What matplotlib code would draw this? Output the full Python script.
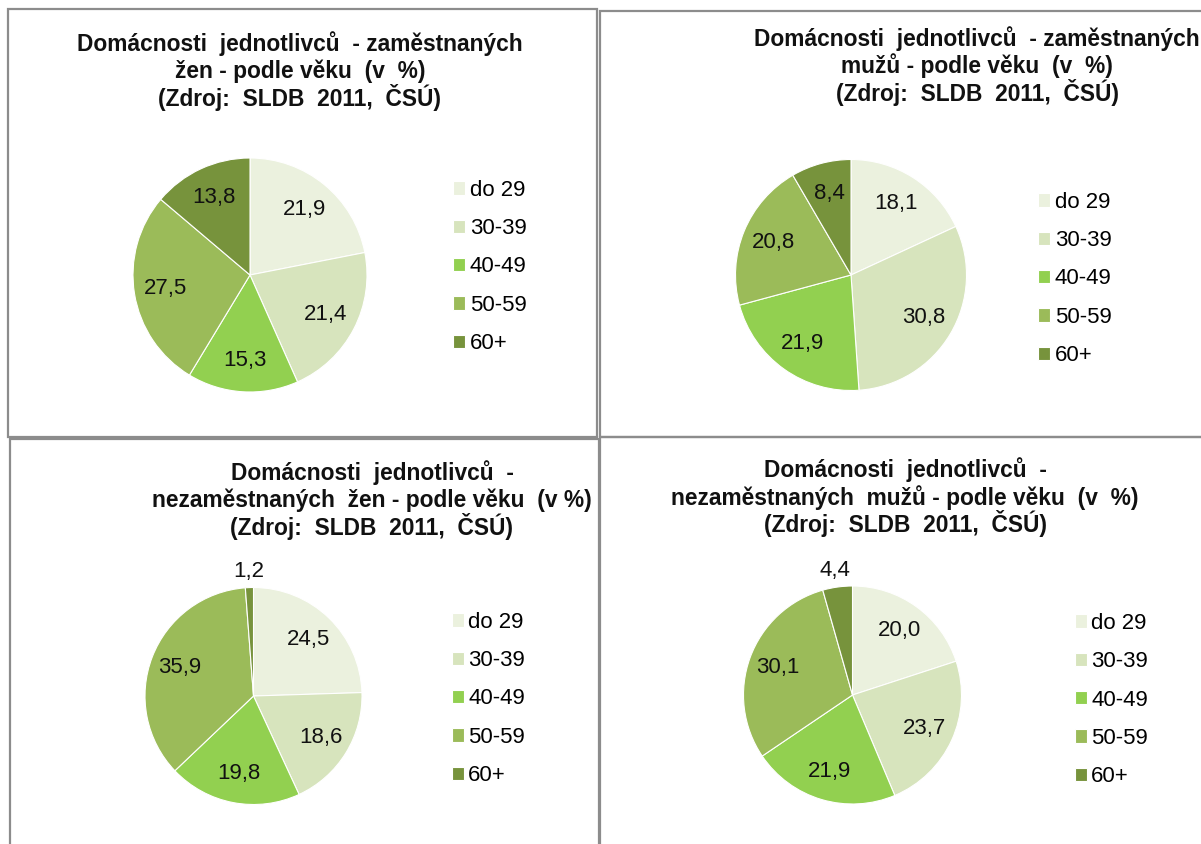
import matplotlib
matplotlib.use("Agg")
import matplotlib.pyplot as plt
import numpy as np
from matplotlib.patches import Rectangle

plt.rcParams["font.family"] = ["Liberation Sans", "DejaVu Sans"]

# --- data -------------------------------------------------------------
categories = ["do 29", "30-39", "40-49", "50-59", "60+"]
colors = ["#EBF1DE", "#D7E4BD", "#92D050", "#9BBB59", "#77933C"]

titles = [
    ["Domácnosti  jednotlivců  - zaměstnaných", "žen - podle věku  (v  %)", "(Zdroj:  SLDB  2011,  ČSÚ)"],
    ["Domácnosti  jednotlivců  - zaměstnaných", "mužů - podle věku  (v  %)", "(Zdroj:  SLDB  2011,  ČSÚ)"],
    ["Domácnosti  jednotlivců  -", "nezaměstnaných  žen - podle věku  (v %)", "(Zdroj:  SLDB  2011,  ČSÚ)"],
    ["Domácnosti  jednotlivců  -", "nezaměstnaných  mužů - podle věku  (v  %)", "(Zdroj:  SLDB  2011,  ČSÚ)"],
]
emp_women = [21.9, 21.4, 15.3, 27.5, 13.8]
emp_men = [18.1, 30.8, 21.9, 20.8, 8.4]
unemp_women = [24.5, 18.6, 19.8, 35.9, 1.2]
unemp_men = [20.0, 23.7, 21.9, 30.1, 4.4]
series = [emp_women, emp_men, unemp_women, unemp_men]

W, H = 1201, 844
fig = plt.figure(figsize=(W / 100, H / 100), dpi=100)


def fx(x):
    return x / W


def fy(y):
    return 1 - y / H


# panel borders (pixel boxes: left, top, right, bottom)
panels = [(7.5, 9, 597, 437), (599.5, 11, 1230, 436.5), (9.5, 438.5, 598.5, 900), (599.5, 436.5, 1230, 900)]
for l, t, r, b in panels:
    fig.patches.append(Rectangle((fx(l), fy(b)), fx(r - l), (b - t) / H, transform=fig.transFigure,
                                 fill=False, edgecolor="#8c8c8c", lw=1.6, zorder=0))

# layout per panel: pie centre x,y, radius, title centre x, first title baseline y, legend left x, legend mid y
layout = [
    (250, 275, 117, 300, 51, 453, 267),
    (851, 275, 115.5, 977, 46, 1038, 279),
    (253.5, 696, 108.5, 372, 480, 451.5, 699),
    (852.5, 695, 109, 905, 477.5, 1074.5, 700),
]
LINE = 27.3  # title line pitch in px

for vals, title, (cx, cy, R, tx, ty, lx, ly) in zip(series, titles, layout):
    side = 2.5 * R
    ax = fig.add_axes([fx(cx - side / 2), fy(cy + side / 2), side / W, side / H])
    wedges, _ = ax.pie(vals, colors=colors, startangle=90, counterclock=False,
                       wedgeprops=dict(edgecolor="white", linewidth=0.8))
    ax.set_xlim(-1.25, 1.25); ax.set_ylim(-1.25, 1.25)

    # data labels at the middle of each slice, small slices outside
    tot = sum(vals)
    start = 90.0
    for v in vals:
        mid = np.deg2rad(start - 360 * v / tot / 2)
        start -= 360 * v / tot
        d = 1.15 if v < 5 else 0.73
        ax.text(d * np.cos(mid), d * np.sin(mid), f"{v:.1f}".replace(".", ","),
                ha="center", va="center", fontsize=16, color="#111111")

    for i, line in enumerate(title):
        fig.text(fx(tx), fy(ty + i * LINE), line, ha="center", va="baseline", fontsize=16.4,
                 fontweight="bold", color="#111111")

    fig.legend(wedges, categories, loc="center left", bbox_to_anchor=(fx(lx), fy(ly)),
               frameon=False, fontsize=16, handlelength=0.55, handleheight=0.55,
               handletextpad=0.2, labelspacing=0.78, borderpad=0, borderaxespad=0)

fig.savefig("out.png", dpi=100)
